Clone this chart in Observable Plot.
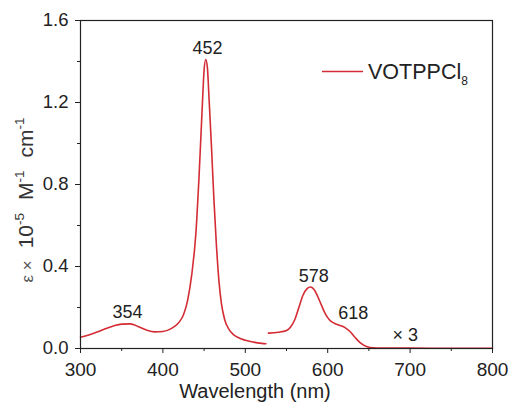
<!DOCTYPE html>
<html><head><meta charset="utf-8">
<script src="https://cdn.jsdelivr.net/npm/d3@7"></script>
<script src="https://cdn.jsdelivr.net/npm/@observablehq/plot@0.6"></script>
<style>body{margin:0;background:#fff}</style>
</head><body><div id="chart"></div>
<script>
// Segment 1 (as measured)
const wl1 = [300,310,320,330,340,350,360,365,370,380,390,400,410,415,420,425,430,435,440,444,448,450,452,454,456,459,462,465,468,471,475,480,485,490,500,510,520,525];
const eps1 = [0.055,0.066,0.08,0.096,0.11,0.119,0.12,0.116,0.107,0.09,0.081,0.083,0.097,0.11,0.13,0.165,0.235,0.36,0.56,0.85,1.2,1.36,1.41,1.37,1.22,0.98,0.72,0.5,0.33,0.22,0.14,0.095,0.07,0.056,0.04,0.031,0.025,0.023];
// Segment 2 (x3)
const wl2 = [528,540,550,555,560,565,570,575,579,583,587,592,597,602,608,615,621,627,633,640,648,655,665,700,750,800];
const eps2 = [0.075,0.079,0.088,0.105,0.14,0.2,0.26,0.292,0.3,0.29,0.262,0.215,0.17,0.14,0.123,0.112,0.102,0.083,0.055,0.026,0.008,0.003,0.002,0.002,0.001,0.001];

const xTicks = [300,400,500,600,700,800];
const xMinor = [350,450,550,650,750];
const yTicks = [0,0.4,0.8,1.2,1.6];
const yMinor = [0.2,0.6,1.0,1.4];

const noteText = ["354","452","578","618","\u00d7 3"];
const noteX = [357,454,583,631,694];
const noteY = [0.151,1.435,0.326,0.146,0.036];

const seriesName = "VOTPPCl";
const seriesSub = "8";
const lineColor = "#d42c34";

const seg1 = wl1.map((w,i)=>({w, e: eps1[i]}));
const seg2 = wl2.map((w,i)=>({w, e: eps2[i]}));
const notes = noteText.map((t,i)=>({t, x: noteX[i], y: noteY[i]}));

const font = "'Liberation Sans', Arial, Helvetica, sans-serif";

const chart = Plot.plot({
  width: 511, height: 404,
  marginLeft: 80, marginRight: 19, marginTop: 20, marginBottom: 56,
  style: {fontFamily: font, background: "#fff", color: "#222"},
  x: {domain: [300, 800], label: null},
  y: {domain: [0, 1.6], label: null},
  marks: [
    Plot.axisX(xTicks, {tickSize: 5, tickPadding: 9, fontSize: 19, label: null, stroke: "#222"}),
    Plot.axisX(xMinor, {tickSize: 3, text: null, label: null, stroke: "#222"}),
    Plot.axisY(yTicks, {tickSize: 5, tickPadding: 7, fontSize: 18.5, tickFormat: d3.format(".1f"), label: null, stroke: "#222"}),
    Plot.axisY(yMinor, {tickSize: 3, text: null, label: null, stroke: "#222"}),
    Plot.line(seg1, {x: "w", y: "e", stroke: lineColor, strokeWidth: 1.6, curve: "monotone-x"}),
    Plot.line(seg2, {x: "w", y: "e", stroke: lineColor, strokeWidth: 1.6, curve: "monotone-x"}),
    Plot.text(notes, {x: "x", y: "y", text: "t", fontSize: 18, lineAnchor: "bottom", textAnchor: "middle", fill: "#222"}),
    Plot.frame({stroke: "#222", strokeWidth: 1.2})
  ]
});

const svg = d3.select(chart);
// x title
svg.append("text").attr("x", 255).attr("y", 398).attr("text-anchor", "middle")
  .attr("font-family", font).attr("font-size", 20).attr("fill", "#222").text("Wavelength (nm)");
// y title
const yt = svg.append("text").attr("transform", "translate(33,200) rotate(-90)")
  .attr("text-anchor", "middle").attr("font-family", font).attr("font-size", 21).attr("fill", "#333");
yt.append("tspan").attr("fill", "#555").attr("font-size", 17).text("\u03b5 \u00d7");
yt.append("tspan").attr("dx", 12).text("10");
yt.append("tspan").attr("font-size", 13.5).attr("dy", -9).text("-5");
yt.append("tspan").attr("dy", 9).attr("dx", 13).text("M");
yt.append("tspan").attr("font-size", 13.5).attr("dy", -9).text("-1");
yt.append("tspan").attr("dy", 9).attr("dx", 13).text("cm");
yt.append("tspan").attr("font-size", 13.5).attr("dy", -9).text("-1");
// legend
svg.append("line").attr("x1", 322).attr("x2", 363).attr("y1", 71.5).attr("y2", 71.5)
  .attr("stroke", lineColor).attr("stroke-width", 1.6);
const lg = svg.append("text").attr("x", 368).attr("y", 79).attr("text-anchor", "start")
  .attr("font-family", font).attr("font-size", 21.5).attr("fill", "#222");
lg.append("tspan").text(seriesName);
lg.append("tspan").attr("font-size", 12).attr("dy", 6).text(seriesSub);

document.getElementById("chart").appendChild(chart);
</script>
</body></html>
